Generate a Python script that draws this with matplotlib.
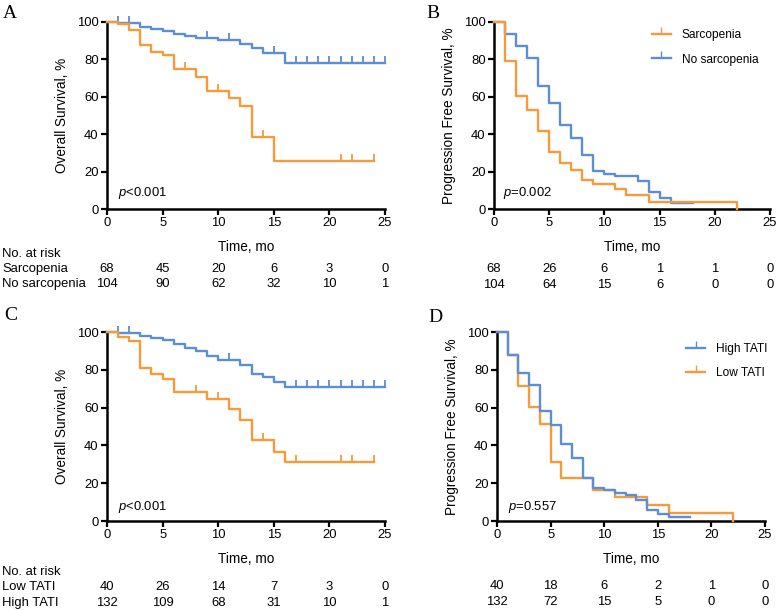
import numpy as np
import matplotlib
matplotlib.use('Agg')
import matplotlib.pyplot as plt
import matplotlib.transforms as mtransforms
from matplotlib.lines import Line2D

plt.rcParams['font.family'] = ['Liberation Sans', 'DejaVu Sans']
plt.rcParams['mathtext.fontset'] = 'custom'
plt.rcParams['mathtext.rm'] = 'Liberation Sans'
plt.rcParams['mathtext.it'] = 'Liberation Sans:italic'

ORANGE = '#F59B3B'
BLUE = '#5B8ED2'

# A: overall survival, sarcopenia
A_sarc_t = [0, 1, 2, 3, 4, 5, 6, 8, 9, 11, 12, 13, 15, 24]
A_sarc_s = [100, 98.9, 95.6, 87.7, 84.1, 82.2, 74.8, 70.7, 63.1, 59.2, 55.0, 38.4, 25.8, 25.8]
A_sarc_cens = [7, 10, 14, 21, 22, 24]
A_nosarc_t = [0, 1, 3, 4, 5, 6, 7, 8, 10, 12, 13, 14, 16, 25]
A_nosarc_s = [100, 99.4, 97.5, 96.2, 95.0, 93.8, 92.6, 91.5, 90.2, 88.1, 85.9, 83.2, 77.9, 77.9]
A_nosarc_cens = [1, 2, 9, 11, 15, 17, 18, 19, 20, 21, 22, 23, 24, 25]

# B: progression free survival, sarcopenia
B_sarc_t = [0, 1, 2, 3, 4, 5, 6, 7, 8, 9, 11, 12, 14, 22]
B_sarc_s = [100, 79, 60.5, 53.2, 41.7, 30.5, 24.4, 20.6, 15.5, 13.5, 10.9, 7.6, 3.7, 0]
B_nosarc_t = [0, 1, 2, 3, 4, 5, 6, 7, 8, 9, 10, 11, 13, 14, 15, 16, 18]
B_nosarc_s = [100, 93.4, 87.3, 80.5, 66.0, 56.5, 45.1, 37.9, 28.7, 20.4, 18.8, 17.4, 14.9, 9.0, 6.0, 3.2, 3.2]

# C: overall survival, TATI
C_low_t = [0, 1, 2, 3, 4, 5, 6, 9, 11, 12, 13, 15, 16, 24]
C_low_s = [100, 97.3, 95.1, 80.9, 77.7, 75.3, 68.2, 64.7, 59.0, 53.7, 42.9, 36.7, 31.1, 31.1]
C_low_cens = [8, 10, 14, 17, 21, 22, 24]
C_high_t = [0, 1, 3, 4, 5, 6, 7, 8, 9, 10, 12, 13, 14, 15, 16, 25]
C_high_s = [100, 99.3, 98.1, 96.8, 95.9, 93.6, 91.5, 90.1, 87.5, 85.0, 82.4, 77.9, 76.1, 73.5, 70.8, 70.8]
C_high_cens = [1, 2, 11, 17, 18, 19, 20, 21, 22, 23, 24, 25]

# D: progression free survival, TATI
D_high_t = [0, 1, 2, 3, 4, 5, 6, 7, 8, 9, 10, 11, 12, 13, 14, 15, 16, 18]
D_high_s = [100, 87.6, 78.5, 72.2, 58.0, 50.7, 41.0, 33.2, 23.0, 17.3, 16.4, 15.0, 13.8, 11.1, 5.9, 3.7, 2.3, 2.3]
D_low_t = [0, 1, 2, 3, 4, 5, 6, 9, 11, 14, 16, 22]
D_low_s = [100, 87.6, 71.6, 60.2, 51.4, 31.4, 22.8, 16.4, 12.9, 8.5, 4.4, 0]

risk_times = [0, 5, 10, 15, 20, 25]
risk_sarc_os = [68, 45, 20, 6, 3, 0]
risk_nosarc_os = [104, 90, 62, 32, 10, 1]
risk_sarc_pfs = [68, 26, 6, 1, 1, 0]
risk_nosarc_pfs = [104, 64, 15, 6, 0, 0]
risk_low_os = [40, 26, 14, 7, 3, 0]
risk_high_os = [132, 109, 68, 31, 10, 1]
risk_low_pfs = [40, 18, 6, 2, 1, 0]
risk_high_pfs = [132, 72, 15, 5, 0, 0]

W, H = 777, 610
FS = 9.4
LFS = 8.6
fig = plt.figure(figsize=(W / 100, H / 100), dpi=100)


def make_ax(x0, x1, ytop, ybot):
    ax = fig.add_axes([x0 / W, 1 - ybot / H, (x1 - x0) / W, (ybot - ytop) / H])
    for s in ['top', 'right']:
        ax.spines[s].set_visible(False)
    for s in ['left', 'bottom']:
        ax.spines[s].set_linewidth(1.8)
    ax.set_xlim(0, 25)
    ax.set_ylim(0, 100)
    ax.set_xticks(range(0, 26, 5))
    ax.set_yticks(range(0, 101, 20))
    ax.tick_params(width=1.6, length=4, labelsize=FS, pad=2)
    ax.set_xlabel('Time, mo', fontsize=9.8, labelpad=8)
    return ax


def km(ax, t, s, color, cens=None):
    ax.step(t, s, where='post', color=color, lw=1.7, clip_on=False, zorder=3)
    if cens:
        idx = np.searchsorted(t, cens, side='right') - 1
        ax.plot(cens, np.array(s)[idx], ls='none', marker=2, ms=5, mew=1.3,
                color=color, clip_on=False, zorder=3)


def risk(ax, rows, ys, labels=None, header_y=None):
    tr = mtransforms.blended_transform_factory(ax.transData, fig.transFigure)
    for vals, y in zip(rows, ys):
        for x, v in zip(risk_times, vals):
            ax.text(x, 1 - y / H, str(v), transform=tr, ha='center', va='center', fontsize=FS)
    if labels:
        fig.text(2 / W, 1 - header_y / H, 'No. at risk', fontsize=FS, va='center')
        for lab, y in zip(labels, ys):
            fig.text(2 / W, 1 - y / H, lab, fontsize=FS, va='center')


def legend(ax, handles, labels, anchor):
    ax.legend(handles, labels, loc='upper left', bbox_to_anchor=anchor, frameon=False,
              fontsize=LFS, numpoints=1, handlelength=1.6, handletextpad=0.9,
              labelspacing=1.05)


axA = make_ax(107, 385, 22, 209)
km(axA, A_nosarc_t, A_nosarc_s, BLUE, A_nosarc_cens)
km(axA, A_sarc_t, A_sarc_s, ORANGE, A_sarc_cens)
axA.set_ylabel('Overall Survival, %', fontsize=9.8, labelpad=6)
axA.text(1, 8.5, r'$p$<0.001', fontsize=FS, va='center')
risk(axA, [risk_sarc_os, risk_nosarc_os], [269, 284], ['Sarcopenia', 'No sarcopenia'], 254)

axB = make_ax(494, 770, 22, 209)
km(axB, B_nosarc_t, B_nosarc_s, BLUE)
km(axB, B_sarc_t, B_sarc_s, ORANGE)
axB.set_ylabel('Progression Free Survival, %', fontsize=9.8, labelpad=6)
axB.text(0.8, 8.5, r'$p$=0.002', fontsize=FS, va='center')
risk(axB, [risk_sarc_pfs, risk_nosarc_pfs], [269, 285])
hB = [Line2D([], [], color=ORANGE, lw=1.7, marker=2, ms=5),
      Line2D([], [], color=BLUE, lw=1.7, marker=2, ms=5)]
legend(axB, hB, ['Sarcopenia', 'No sarcopenia'], (0.533, 1.02))

axC = make_ax(107, 385, 332, 521)
km(axC, C_high_t, C_high_s, BLUE, C_high_cens)
km(axC, C_low_t, C_low_s, ORANGE, C_low_cens)
axC.set_ylabel('Overall Survival, %', fontsize=9.8, labelpad=6)
axC.text(1, 7.6, r'$p$<0.001', fontsize=FS, va='center')
risk(axC, [risk_low_os, risk_high_os], [587, 603], ['Low TATI', 'High TATI'], 572)

axD = make_ax(497, 765, 332, 521)
km(axD, D_low_t, D_low_s, ORANGE)
km(axD, D_high_t, D_high_s, BLUE)
axD.set_ylabel('Progression Free Survival, %', fontsize=9.8, labelpad=6)
axD.text(1, 7.6, r'$p$=0.557', fontsize=FS, va='center')
risk(axD, [risk_low_pfs, risk_high_pfs], [586, 602])
hD = [Line2D([], [], color=BLUE, lw=1.7, marker=2, ms=5),
      Line2D([], [], color=ORANGE, lw=1.7, marker=2, ms=5)]
legend(axD, hD, ['High TATI', 'Low TATI'], (0.665, 1.0))

for lab, x, y in [('A', 3, 13), ('B', 426, 13), ('C', 4, 316), ('D', 428, 318)]:
    fig.text(x / W, 1 - y / H, lab, fontsize=14, family='Liberation Serif', va='center')

fig.savefig('out.png', dpi=100)
